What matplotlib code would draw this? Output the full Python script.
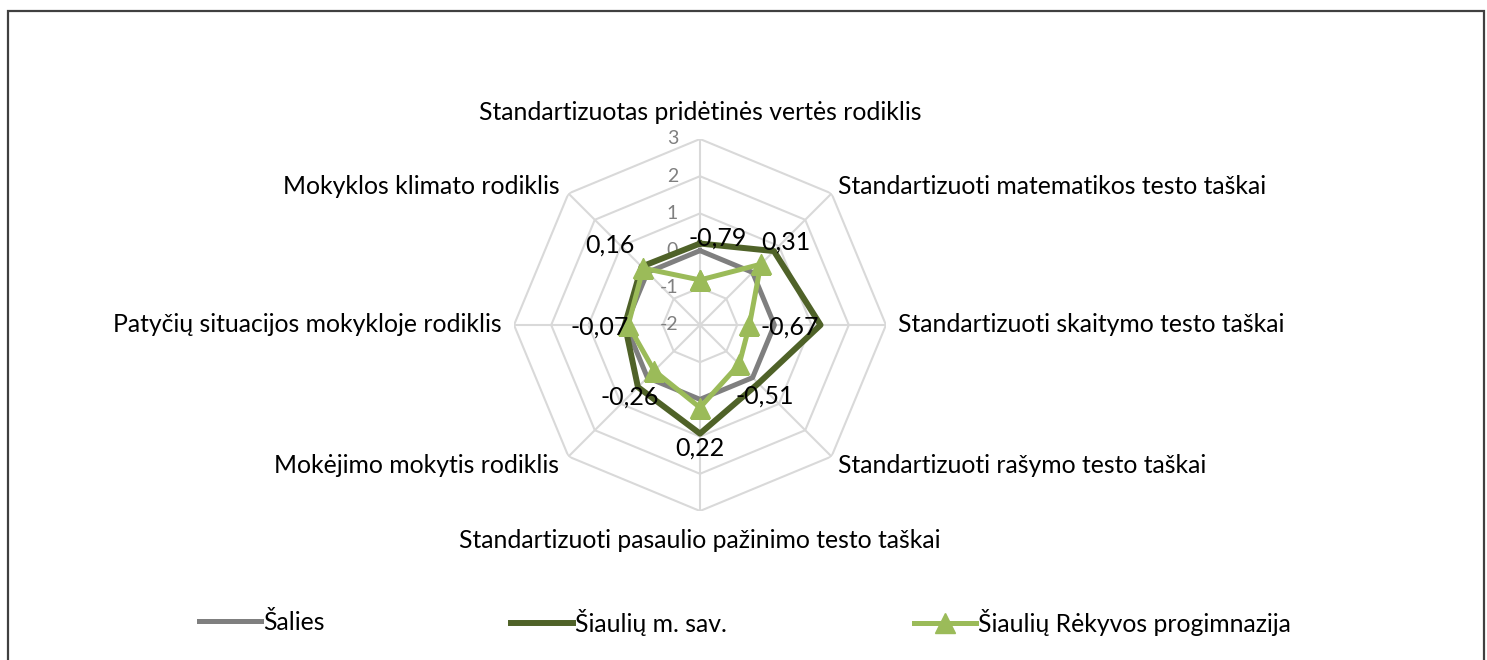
"""Radar chart: school indicators vs municipality and country."""

import numpy as np
import matplotlib.pyplot as plt
from matplotlib.lines import Line2D
from matplotlib.patches import Rectangle

plt.rcParams["font.family"] = ["Lato", "DejaVu Sans"]

categories = [
    "Standartizuotas pridėtinės vertės rodiklis",
    "Standartizuoti matematikos testo taškai",
    "Standartizuoti skaitymo testo taškai",
    "Standartizuoti rašymo testo taškai",
    "Standartizuoti pasaulio pažinimo testo taškai",
    "Mokėjimo mokytis rodiklis",
    "Patyčių situacijos mokykloje rodiklis",
    "Mokyklos klimato rodiklis",
]
salies = [0, 0, 0, 0, 0, 0, 0, 0]
siauliu_sav = [0.19, 0.81, 1.24, 0.22, 0.92, 0.36, 0.02, 0.22]
rekyvos = [-0.79, 0.31, -0.67, -0.51, 0.22, -0.26, -0.07, 0.16]
ring_values = [-2, -1, 0, 1, 2, 3]
series_names = ["Šalies", "Šiaulių m. sav.", "Šiaulių Rėkyvos progimnazija"]

# layout: offsets in pixels for the category labels and the value labels
cat_offsets = [(0, 27), (6, 7), (12, 0), (6, -9), (0, -30), (-9, -9), (-12, 0), (-9, 7)]
cat_align = ["center", "left", "left", "left", "center", "right", "right", "right"]
val_offsets = [(18, 42), (25, 22), (40, -2), (26, -32), (0, -40), (-24, -26), (-29, -2), (-33, 23)]

W, H = 1487, 660
fig = plt.figure(figsize=(W / 100, H / 100), dpi=100)
cx, cy, R = 700, 325, 186
ax = fig.add_axes([(cx - R) / W, 1 - (cy + R) / H, 2 * R / W, 2 * R / H], projection="polar")
ax.set_theta_offset(np.pi / 2)
ax.set_theta_direction(-1)
ax.set_ylim(ring_values[0], ring_values[-1])
ax.grid(False)
ax.spines["polar"].set_visible(False)
ax.set_xticks([])
ax.set_yticks([])
ax.patch.set_alpha(0)

n = len(categories)
theta = np.arange(n) * 2 * np.pi / n
theta_c = np.append(theta, theta[0])

grid_col = "#D9D9D9"
for v in ring_values[1:]:
    ax.plot(theta_c, [v] * (n + 1), color=grid_col, lw=1.5, zorder=1)
for t in theta:
    ax.plot([t, t], [ring_values[0], ring_values[-1]], color=grid_col, lw=1.5, zorder=1)

for v in ring_values:
    ax.annotate(str(v), xy=(0, v), xytext=(-22, 0), textcoords="offset pixels",
                ha="right", va="center", color="#808080", fontsize=14, zorder=2)


def closed(vals):
    return list(vals) + [vals[0]]


ax.plot(theta_c, closed(salies), color="#7F7F7F", lw=3.6, zorder=3)
ax.plot(theta_c, closed(siauliu_sav), color="#4F6228", lw=4.3, zorder=4)
ax.plot(theta_c, closed(rekyvos), color="#9BBB59", lw=3.6, marker="^",
        markersize=14, zorder=5)

for t, lab, off, al in zip(theta, categories, cat_offsets, cat_align):
    ax.annotate(lab, xy=(t, ring_values[-1]), xytext=off, textcoords="offset pixels",
                ha=al, va="center", fontsize=17.8, color="#000000", annotation_clip=False)

for t, v, off in zip(theta, rekyvos, val_offsets):
    ax.annotate(f"{v:.2f}".replace(".", ","), xy=(t, v), xytext=off,
                textcoords="offset pixels", ha="center", va="center",
                fontsize=18, color="#000000", zorder=6)

handles = [
    Line2D([], [], color="#7F7F7F", lw=3.6),
    Line2D([], [], color="#4F6228", lw=4.3),
    Line2D([], [], color="#9BBB59", lw=3.6, marker="^", markersize=14),
]
xs = [199, 511, 914]
for h, name, x in zip(handles, series_names, xs):
    fig.legend([h], [name], loc="center left", bbox_to_anchor=(x / W, 1 - 622 / H),
               frameon=False, fontsize=17.8, handlelength=2.5, handletextpad=0.08,
               borderaxespad=0, borderpad=0)

fig.add_artist(Rectangle((8 / W, -0.05), 1476 / W, 1.05 - 11 / H,
                         transform=fig.transFigure, fill=False,
                         edgecolor="#404040", lw=1.6))

fig.savefig("out.png", dpi=100)
